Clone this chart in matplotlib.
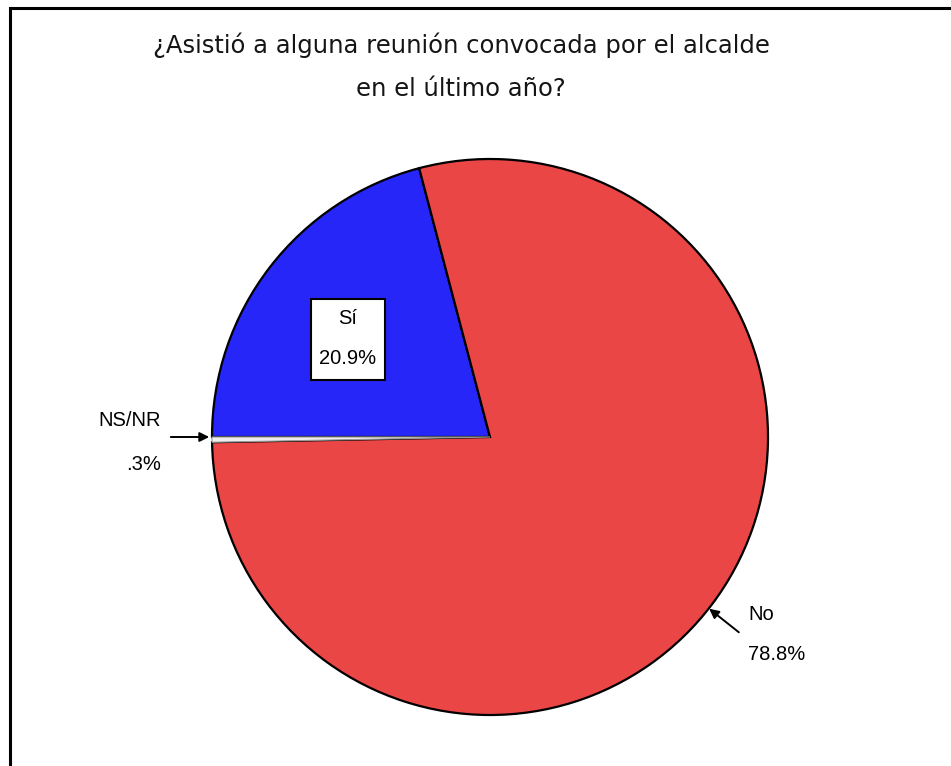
import matplotlib
matplotlib.use("Agg")
import matplotlib.pyplot as plt
from matplotlib.patches import Rectangle

title_lines = ["¿Asistió a alguna reunión convocada por el alcalde", "en el último año?"]
categories = ["Sí", "No", "NS/NR"]
values = [20.9, 78.8, 0.3]
pct_labels = ["20.9%", "78.8%", ".3%"]
colors = ["#2626f8", "#ea4646", "#eeeeee"]

W, H = 951, 766
fig = plt.figure(figsize=(W / 100, H / 100), dpi=100)
fig.patch.set_facecolor("white")

# outer frame (extends past right and bottom edges)
fig.patches.append(Rectangle((10 / W, -0.05), 1.05, 1 - 8 / H + 0.05,
                             transform=fig.transFigure, fill=False,
                             edgecolor="black", linewidth=2.2, clip_on=False))

fig.text(461 / W, 1 - 45 / H, title_lines[0], ha="center", va="center",
         fontsize=17.5, family="DejaVu Sans", color="#151515")
fig.text(461 / W, 1 - 89 / H, title_lines[1], ha="center", va="center",
         fontsize=17.5, family="DejaVu Sans", color="#151515")

cx, cy, r = 490, 437, 278
ax = fig.add_axes([(cx - r) / W, (H - cy - r) / H, 2 * r / W, 2 * r / H])

wedges, _ = ax.pie(values, colors=colors, startangle=180, counterclock=False,
                   radius=1.0, center=(0, 0),
                   wedgeprops=dict(edgecolor="black", linewidth=1.6))
wedges[2].set_edgecolor("#999999")
wedges[2].set_linewidth(0.8)
ax.set_xlim(-1, 1)
ax.set_ylim(-1, 1)
ax.set_aspect("equal")
ax.axis("off")

def px(x, y):
    return ((x - cx) / r, (cy - y) / r)

lab_font = dict(family="Liberation Sans", fontsize=14.5, color="black")

# Sí label in box
x0, y0 = px(311, 380)
x1, y1 = px(385, 299)
ax.add_patch(Rectangle((x0, y0), x1 - x0, y1 - y0, facecolor="white",
                       edgecolor="black", linewidth=1.5, zorder=5))
ax.text(*px(348, 318), categories[0], ha="center", va="center", zorder=6, **lab_font)
ax.text(*px(348, 358), pct_labels[0], ha="center", va="center", zorder=6, **lab_font)

# NS/NR label and arrow
ax.text(*px(161, 420), categories[2], ha="right", va="center", **lab_font)
ax.text(*px(161, 464), pct_labels[2], ha="right", va="center", **lab_font)
ax.annotate("", xy=px(212, 437), xytext=px(168, 437),
            arrowprops=dict(arrowstyle="-|>", color="black", lw=1.4, mutation_scale=14))

# No label and arrow
ax.text(*px(748, 615), categories[1], ha="left", va="center", **lab_font)
ax.text(*px(748, 655), pct_labels[1], ha="left", va="center", **lab_font)
ax.annotate("", xy=px(707, 607), xytext=px(741, 634),
            arrowprops=dict(arrowstyle="-|>", color="black", lw=1.4, mutation_scale=14))

fig.savefig("out.png", dpi=100)
